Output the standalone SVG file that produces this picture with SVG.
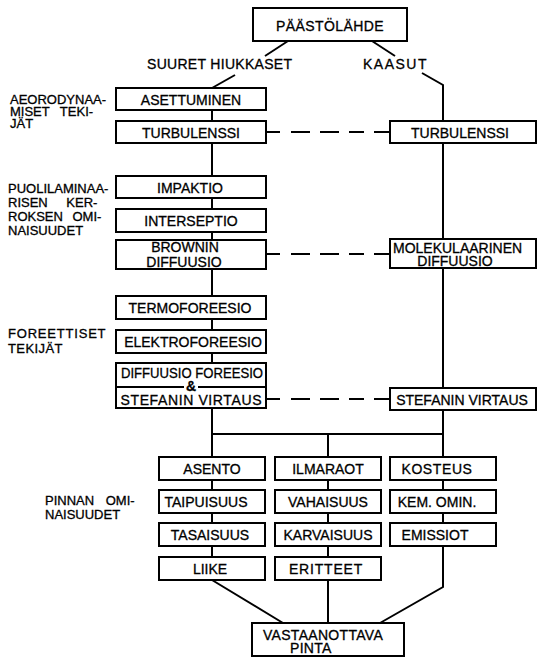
<svg xmlns="http://www.w3.org/2000/svg" width="537" height="657" viewBox="0 0 537 657">
<style>
.box{fill:#fff;stroke:#000;stroke-width:2}
.t{font-family:"Liberation Sans",Arial,sans-serif;font-size:14px;fill:#000;stroke:#000;stroke-width:0.3;text-anchor:middle}
.s{text-anchor:start}
.lbl{font-family:"Liberation Sans",Arial,sans-serif;font-size:13px;fill:#000;stroke:#000;stroke-width:0.3}
.ln{stroke:#000;stroke-width:2;fill:none}
.dash{stroke-dasharray:14 11 19 10 19 10 15 10 30}
</style>
<rect width="537" height="657" fill="#fff"/>
<g id="connectors" class="ln">
<path d="M288,41 L265,56"/>
<path d="M372,41 L395,56"/>
<path d="M235,75 L212,88"/>
<path d="M422,73 L443,85 L443,121"/>
<path d="M212,110 V121 M212,143 V176 M212,198 V209 M212,232 V240 M212,269 V296 M212,319 V330 M212,353 V363 M212,408 V457"/>
<path d="M212,434 H443 M328,434 V457"/>
<path d="M443,143 V239 M443,268 V388 M443,410 V457"/>
<path d="M212,480 V490 M212,513 V523 M212,546 V557 M328,480 V490 M328,513 V523 M328,546 V557 M443,480 V490 M443,513 V523"/>
<path d="M212,580 L283,623 M328,580 V623 M443,546 V587 L380,623"/>
<path class="dash" d="M266,132 H390"/>
<path class="dash" d="M266,254 H390"/>
<path class="dash" d="M266,399 H390"/>
</g>
<g id="paastolahde"><rect class="box" x="253" y="8" width="154" height="33"/><text class="t" x="330" y="31" letter-spacing="0.4">PÄÄSTÖLÄHDE</text></g>
<g id="lbl-suuret"><text class="t s" x="147" y="69" letter-spacing="0.3">SUURET HIUKKASET</text></g>
<g id="lbl-kaasut"><text class="t s" x="363" y="69" letter-spacing="1.5">KAASUT</text></g>
<g id="lbl-aero"><text class="lbl" x="10" y="104" font-size="12.5">AEORODYNAA-</text><text class="lbl" x="10" y="116" font-size="12.5" word-spacing="7">MISET TEKI-</text><text class="lbl" x="10" y="128" font-size="12.5">JÄT</text></g>
<g id="lbl-puoli"><text class="lbl" x="8" y="193">PUOLILAMINAA-</text><text class="lbl" x="8" y="207" word-spacing="15">RISEN KER-</text><text class="lbl" x="8" y="221" word-spacing="6">ROKSEN OMI-</text><text class="lbl" x="8" y="235">NAISUUDET</text></g>
<g id="lbl-fore"><text class="lbl" x="8" y="338" letter-spacing="0.8">FOREETTISET</text><text class="lbl" x="8" y="353" letter-spacing="0.4">TEKIJÄT</text></g>
<g id="lbl-pinta"><text class="lbl" x="45" y="505" word-spacing="8">PINNAN OMI-</text><text class="lbl" x="45" y="519">NAISUUDET</text></g>
<g id="asettuminen"><rect class="box" x="116" y="88" width="150" height="22"/><text class="t" x="191" y="105">ASETTUMINEN</text></g>
<g id="turbulenssi-l"><rect class="box" x="116" y="121" width="150" height="22"/><text class="t" x="191" y="138">TURBULENSSI</text></g>
<g id="turbulenssi-r"><rect class="box" x="390" y="121" width="146" height="22"/><text class="t" x="460" y="138">TURBULENSSI</text></g>
<g id="impaktio"><rect class="box" x="116" y="176" width="150" height="22"/><text class="t" x="190" y="193">IMPAKTIO</text></g>
<g id="interseptio"><rect class="box" x="116" y="209" width="150" height="23"/><text class="t" x="191" y="226">INTERSEPTIO</text></g>
<g id="brownin"><rect class="box" x="116" y="240" width="150" height="29"/><text class="t" x="185" y="252">BROWNIN</text><text class="t" x="184" y="267">DIFFUUSIO</text></g>
<g id="molekulaarinen"><rect class="box" x="390" y="239" width="146" height="29"/><text class="t s" x="393" y="253">MOLEKULAARINEN</text><text class="t" x="455" y="266">DIFFUUSIO</text></g>
<g id="termoforeesio"><rect class="box" x="116" y="296" width="150" height="23"/><text class="t" x="190" y="313">TERMOFOREESIO</text></g>
<g id="elektroforeesio"><rect class="box" x="116" y="330" width="150" height="23"/><text class="t" x="193" y="347">ELEKTROFOREESIO</text></g>
<g id="diffuusio-foreesio"><rect class="box" x="116" y="363" width="150" height="45"/><path class="ln" d="M116,387 H184 M198,387 H266"/><text class="t" x="192" y="378" textLength="142" lengthAdjust="spacingAndGlyphs">DIFFUUSIO FOREESIO</text><text class="t" x="191" y="391" font-size="12" font-weight="bold">&amp;</text><text class="t" x="191" y="405" textLength="141">STEFANIN VIRTAUS</text></g>
<g id="stefanin-r"><rect class="box" x="390" y="388" width="146" height="22"/><text class="t" x="462" y="405">STEFANIN VIRTAUS</text></g>
<g id="asento"><rect class="box" x="159" y="457" width="106" height="23"/><text class="t" x="212" y="474">ASENTO</text></g>
<g id="taipuisuus"><rect class="box" x="159" y="490" width="106" height="23"/><text class="t" x="206" y="507">TAIPUISUUS</text></g>
<g id="tasaisuus"><rect class="box" x="159" y="523" width="106" height="23"/><text class="t" x="210" y="540">TASAISUUS</text></g>
<g id="liike"><rect class="box" x="159" y="557" width="106" height="23"/><text class="t" x="210" y="574">LIIKE</text></g>
<g id="ilmaraot"><rect class="box" x="275" y="457" width="106" height="23"/><text class="t" x="328" y="474">ILMARAOT</text></g>
<g id="vahaisuus"><rect class="box" x="275" y="490" width="106" height="23"/><text class="t" x="328" y="507">VAHAISUUS</text></g>
<g id="karvaisuus"><rect class="box" x="275" y="523" width="106" height="23"/><text class="t" x="328" y="540">KARVAISUUS</text></g>
<g id="eritteet"><rect class="box" x="275" y="557" width="106" height="23"/><text class="t" x="326" y="574" letter-spacing="0.8">ERITTEET</text></g>
<g id="kosteus"><rect class="box" x="390" y="457" width="106" height="23"/><text class="t" x="437" y="474" letter-spacing="0.6">KOSTEUS</text></g>
<g id="kem-omin"><rect class="box" x="390" y="490" width="106" height="23"/><text class="t" x="437" y="507">KEM. OMIN.</text></g>
<g id="emissiot"><rect class="box" x="390" y="523" width="106" height="23"/><text class="t" x="435" y="540">EMISSIOT</text></g>
<g id="vastaanottava"><rect class="box" x="252" y="623" width="152" height="33"/><text class="t s" x="263" y="640" letter-spacing="0.3">VASTAANOTTAVA</text><text class="t s" x="290" y="653" letter-spacing="0.3">PINTA</text></g>
</svg>
